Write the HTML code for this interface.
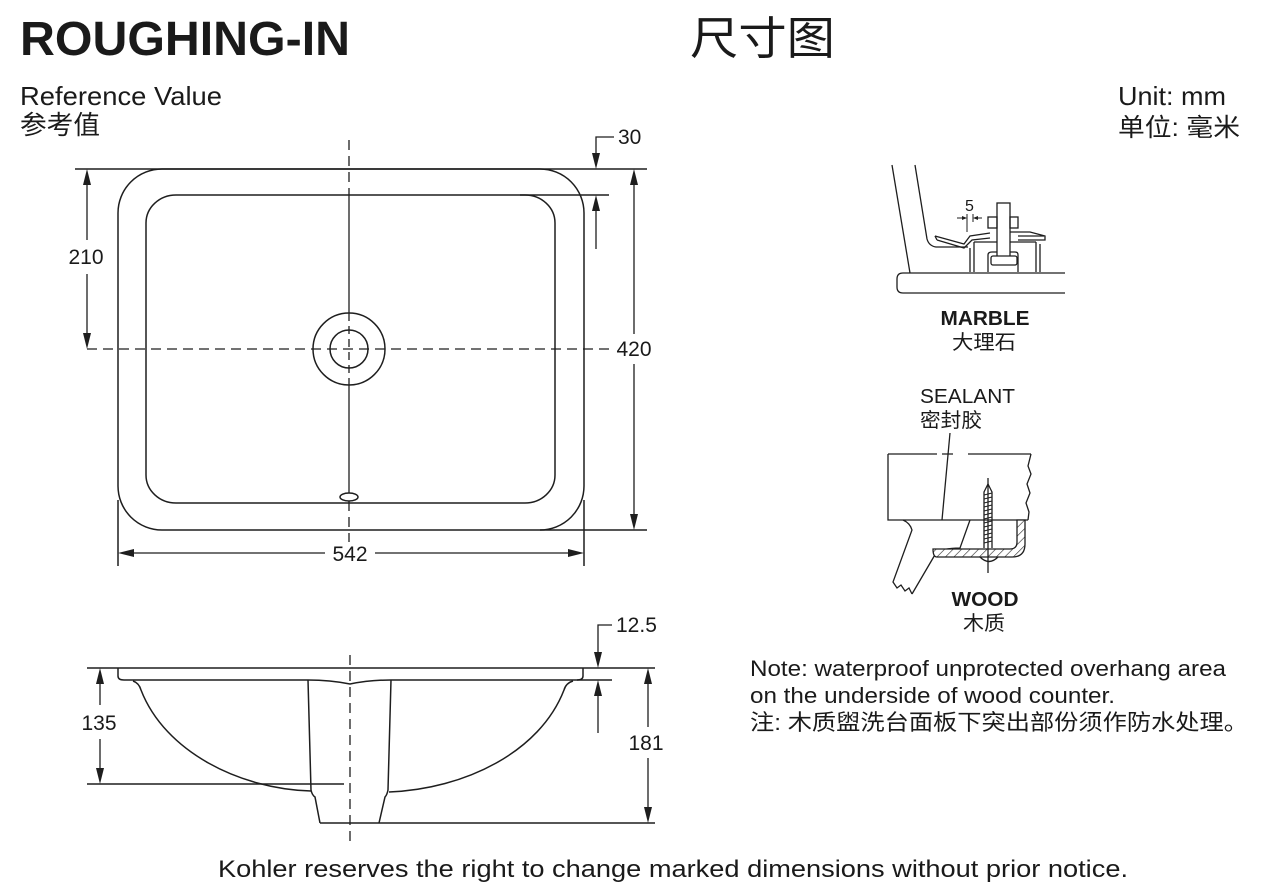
<!DOCTYPE html>
<html><head><meta charset="utf-8"><style>
html,body{margin:0;padding:0;background:#fff;}
svg{display:block;}
text{font-family:"Liberation Sans","Noto Sans CJK SC",sans-serif;fill:#1a1a1a;}
.cj{font-family:"Liberation Sans","Noto Sans CJK SC",sans-serif;}
</style></head><body>
<svg width="1280" height="884" viewBox="0 0 1280 884" xmlns="http://www.w3.org/2000/svg">
<defs>
<pattern id="hatch" width="6" height="6" patternUnits="userSpaceOnUse" patternTransform="rotate(45)">
<rect width="6" height="6" fill="#fff"/>
<line x1="0" y1="0" x2="0" y2="6" stroke="#222" stroke-width="1.2"/>
</pattern>
</defs>
<rect width="1280" height="884" fill="#fff"/>

<!-- Headers -->
<text x="20" y="55" font-size="48" font-weight="bold" textLength="330" lengthAdjust="spacingAndGlyphs">ROUGHING-IN</text>
<text x="690" y="54" font-size="45" textLength="145" lengthAdjust="spacingAndGlyphs">尺寸图</text>
<text x="20" y="105" font-size="26" textLength="202" lengthAdjust="spacingAndGlyphs">Reference Value</text>
<text x="20" y="134" font-size="26" textLength="80" lengthAdjust="spacingAndGlyphs">参考值</text>
<text x="1118" y="105" font-size="26" textLength="108" lengthAdjust="spacingAndGlyphs">Unit: mm</text>
<text x="1118" y="136" font-size="25" textLength="122" lengthAdjust="spacingAndGlyphs">单位: 毫米</text>

<g fill="none" stroke="#1e1e1e" stroke-width="1.5">
<!-- ============ TOP VIEW ============ -->
<line x1="75" y1="169" x2="647" y2="169"/>
<line x1="540" y1="530" x2="647" y2="530"/>
<rect x="118" y="169" width="466" height="361" rx="44" ry="44"/>
<line x1="118" y1="500" x2="118" y2="566"/>
<line x1="584" y1="500" x2="584" y2="566"/>
<rect x="146" y="195" width="409" height="308" rx="30" ry="28"/>
<line x1="520" y1="195" x2="609" y2="195"/>
<!-- drain -->
<circle cx="349" cy="349" r="36"/>
<circle cx="349" cy="349" r="19"/>
<ellipse cx="349" cy="497" rx="9" ry="4"/>
<!-- centerlines -->
<line x1="87" y1="349" x2="612" y2="349" stroke-dasharray="10 6" stroke-width="1.3"/>
<line x1="349" y1="140" x2="349" y2="195" stroke-dasharray="10 6" stroke-width="1.3"/>
<line x1="349" y1="195" x2="349" y2="313" stroke-width="1.3"/>
<line x1="349" y1="313" x2="349" y2="385" stroke-dasharray="8 5" stroke-width="1.3"/>
<line x1="349" y1="385" x2="349" y2="493" stroke-width="1.3"/>
<line x1="349" y1="501" x2="349" y2="542" stroke-dasharray="10 6" stroke-width="1.3"/>
<!-- dims -->
<line x1="87" y1="180" x2="87" y2="240" stroke-width="1.3"/>
<line x1="87" y1="274" x2="87" y2="338" stroke-width="1.3"/>
<line x1="634" y1="180" x2="634" y2="334" stroke-width="1.3"/>
<line x1="634" y1="364" x2="634" y2="519" stroke-width="1.3"/>
<line x1="129" y1="553" x2="325" y2="553" stroke-width="1.3"/>
<line x1="375" y1="553" x2="573" y2="553" stroke-width="1.3"/>
<polyline points="614,137 596,137 596,158" stroke-width="1.3"/>
<line x1="596" y1="206" x2="596" y2="249" stroke-width="1.3"/>

<!-- ============ SIDE VIEW ============ -->
<line x1="87" y1="668" x2="655" y2="668"/>
<path d="M118,668 V676 Q118,680 124,680 H308"/>
<path d="M391,680 H577 Q583,680 583,676 V668"/>
<line x1="577" y1="680" x2="612" y2="680"/>
<path d="M308,680 Q330,680 350,684 Q370,680 391,680"/>
<path d="M133,681 Q139,683 141,690 C 165,752 240,789 311,791"/>
<path d="M573,681 Q566,683 564,690 C 540,752 465,789 389,792"/>
<path d="M308,680 L311,790 Q312,795 315,797 L320,823"/>
<path d="M391,680 L388,790 Q387,795 385,797 L379,823"/>
<line x1="320" y1="823" x2="655" y2="823"/>
<line x1="87" y1="784" x2="344" y2="784"/>
<line x1="350" y1="655" x2="350" y2="845" stroke-dasharray="10 6" stroke-width="1.3"/>
<line x1="100" y1="679" x2="100" y2="705" stroke-width="1.3"/>
<line x1="100" y1="739" x2="100" y2="773" stroke-width="1.3"/>
<line x1="648" y1="679" x2="648" y2="727" stroke-width="1.3"/>
<line x1="648" y1="758" x2="648" y2="812" stroke-width="1.3"/>
<polyline points="612,625 598,625 598,657" stroke-width="1.3"/>
<line x1="598" y1="691" x2="598" y2="733" stroke-width="1.3"/>
</g>

<!-- arrowheads -->
<g fill="#1e1e1e">
<polygon points="87,169 83,185 91,185"/>
<polygon points="87,349 83,333 91,333"/>
<polygon points="634,169 630,185 638,185"/>
<polygon points="634,530 630,514 638,514"/>
<polygon points="118,553 134,549 134,557"/>
<polygon points="584,553 568,549 568,557"/>
<polygon points="596,169 592,153 600,153"/>
<polygon points="596,195 592,211 600,211"/>
<polygon points="100,668 96,684 104,684"/>
<polygon points="100,784 96,768 104,768"/>
<polygon points="648,668 644,684 652,684"/>
<polygon points="648,823 644,807 652,807"/>
<polygon points="598,668 594,652 602,652"/>
<polygon points="598,680 594,696 602,696"/>
</g>

<!-- dim labels -->
<g font-size="21">
<text x="86" y="264" text-anchor="middle">210</text>
<text x="634" y="356" text-anchor="middle">420</text>
<text x="350" y="561" text-anchor="middle">542</text>
<text x="618" y="144">30</text>
<text x="99" y="730" text-anchor="middle">135</text>
<text x="646" y="750" text-anchor="middle">181</text>
<text x="616" y="632">12.5</text>
</g>

<!-- ============ MARBLE DETAIL ============ -->
<g fill="none" stroke="#1e1e1e" stroke-width="1.3">
<line x1="892" y1="165" x2="910" y2="273"/>
<path d="M915,165 L927,239 Q929,246 936,247 L968,247"/>
<path d="M1065,273 H903 Q897,273 897,279 V287 Q897,293 903,293 H1065"/>
<!-- clip arm -->
<path d="M935,236 L964,244 L970,236 L990,233 M937,240 L964,248 L972,240 L990,238"/>
<path d="M935,236 L937,240"/>
<!-- bracket body -->
<path d="M970,248 V272 M974,242 V272 M1036,242 V272 M1040,244 V272"/>
<path d="M974,242 H1036"/>
<path d="M988,272 V255 Q988,252 992,252 H997 M1010,252 H1015 Q1018,252 1018,255 V272"/>
<!-- bolt -->
<rect x="997" y="203" width="13" height="55" fill="#fff"/>
<rect x="991" y="256" width="26" height="9" rx="2" fill="#fff"/>
<rect x="988" y="217" width="9" height="11"/>
<rect x="1010" y="217" width="8" height="11"/>
<path d="M1010,232 H1030 L1045,236 V240 H1018"/>
<path d="M1018,236 H1044"/>
<!-- 5 dim -->
<line x1="967" y1="214" x2="967" y2="232" stroke-width="1"/>
<line x1="973" y1="214" x2="973" y2="222" stroke-width="1"/>
<line x1="957" y1="218" x2="964" y2="218" stroke-width="1"/>
<line x1="976" y1="218" x2="982" y2="218" stroke-width="1"/>
</g>
<g fill="#1e1e1e">
<polygon points="967,218 962,216 962,220"/>
<polygon points="973,218 978,216 978,220"/>
</g>
<text x="965" y="211" font-size="16">5</text>
<text x="985" y="325" font-size="20" font-weight="bold" text-anchor="middle" textLength="89" lengthAdjust="spacingAndGlyphs">MARBLE</text>
<text x="984" y="349" font-size="20" text-anchor="middle" textLength="64" lengthAdjust="spacingAndGlyphs">大理石</text>

<!-- ============ WOOD DETAIL ============ -->
<text x="920" y="403" font-size="20" textLength="95" lengthAdjust="spacingAndGlyphs">SEALANT</text>
<text x="920" y="427" font-size="20" textLength="62" lengthAdjust="spacingAndGlyphs">密封胶</text>
<g fill="none" stroke="#1e1e1e" stroke-width="1.3">
<line x1="950" y1="433" x2="942" y2="520"/>
<path d="M888,454 H937 M942,454 H953 M968,454 H1031"/>
<path d="M888,454 V520 H1028"/>
<path d="M1031,454 L1028,466 L1031,474 L1027,484 L1030,493 L1026,503 L1029,512 L1028,520"/>
<path d="M903,520 Q910,523 912,530 L893,582 L897,588 L901,585 L905,591 L909,588 L912,594"/>
<path d="M970,520 L960,548 Q943,548 936,553 L912,594"/>
<path d="M933,549 H1010 Q1017,549 1017,542 V520 H1025 V544 Q1025,557 1012,557 H937 Q933,557 933,549 Z" fill="url(#hatch)"/>
<line x1="988" y1="478" x2="988" y2="573"/>
<path d="M980,557 Q989,566 998,557"/>
<path d="M988,484 L984,492 V548 M988,484 L992,492 V548"/>
</g>
<g stroke="#1e1e1e" stroke-width="1">
<path d="M984,495 L992,493 M984,499 L992,497 M984,503 L992,501 M984,507 L992,505 M984,511 L992,509 M984,515 L992,513 M984,519 L992,517 M984,523 L992,521 M984,527 L992,525 M984,531 L992,529 M984,535 L992,533 M984,539 L992,537 M984,543 L992,541"/>
</g>
<text x="985" y="606" font-size="20" font-weight="bold" text-anchor="middle" textLength="67" lengthAdjust="spacingAndGlyphs">WOOD</text>
<text x="984" y="630" font-size="20" text-anchor="middle" textLength="42" lengthAdjust="spacingAndGlyphs">木质</text>

<!-- Note -->
<text x="750" y="676" font-size="22" textLength="476" lengthAdjust="spacingAndGlyphs">Note: waterproof unprotected overhang area</text>
<text x="750" y="703" font-size="22" textLength="365" lengthAdjust="spacingAndGlyphs">on the underside of wood counter.</text>
<text x="750" y="730" font-size="22" textLength="498" lengthAdjust="spacingAndGlyphs">注:  木质盥洗台面板下突出部份须作防水处理。</text>

<!-- Footer -->
<text x="218" y="877" font-size="24" textLength="910" lengthAdjust="spacingAndGlyphs">Kohler reserves the right to change marked dimensions without prior notice.</text>
</svg>
</body></html>
